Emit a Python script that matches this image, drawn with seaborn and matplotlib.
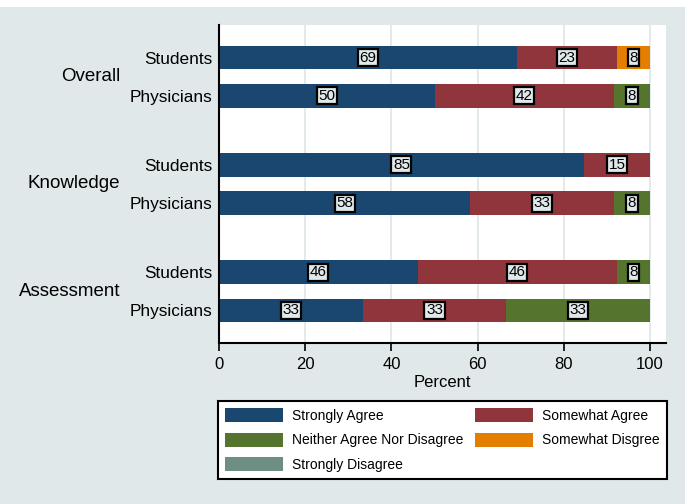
import numpy as np
import pandas as pd
import seaborn as sns
import matplotlib.pyplot as plt
import matplotlib.transforms as mtransforms
from matplotlib.patches import Patch, Rectangle

# survey data (percent), rows: Overall/Knowledge/Assessment x Students/Physicians
groups = ["Overall", "Knowledge", "Assessment"]
samples = ["Students", "Physicians"]
responses = ["Strongly Agree", "Somewhat Agree", "Neither Agree Nor Disagree",
             "Somewhat Disgree", "Strongly Disagree"]

strongly_agree = [69.23, 50.0, 84.62, 58.33, 46.15, 33.33]
somewhat_agree = [23.08, 41.67, 15.38, 33.33, 46.15, 33.33]
neither_agree = [0.0, 8.33, 0.0, 8.33, 7.69, 33.34]
somewhat_disagree = [7.69, 0.0, 0.0, 0.0, 0.0, 0.0]
strongly_disagree = [0.0, 0.0, 0.0, 0.0, 0.0, 0.0]

colors = ["#1a476f", "#90353b", "#55752f", "#e37e00", "#6e8e84"]
bg = "#e0e8ea"

sns.set_style("ticks")
plt.rcParams["font.family"] = ["Liberation Sans", "DejaVu Sans"]
plt.rcParams.update({"text.color": "black", "axes.labelcolor": "black",
                     "xtick.color": "black", "ytick.color": "black"})

df = pd.DataFrame(dict(zip(responses, [strongly_agree, somewhat_agree, neither_agree,
                                       somewhat_disagree, strongly_disagree])))
df["sample"] = samples * len(groups)
df["group"] = np.repeat(groups, len(samples))
df["pos"] = [0, 1, 2.8, 3.8, 5.6, 6.6]
cum = df[responses].cumsum(axis=1)

fig = plt.figure(figsize=(6.85, 5.04), dpi=100)
fig.patch.set_facecolor("white")
fig.patches.append(Rectangle((0, 0), 1, 1 - 7 / 504, transform=fig.transFigure,
                             facecolor=bg, edgecolor="none", zorder=-10))
ax = fig.add_axes([219 / 685, 1 - 343 / 504, 447 / 685, 318 / 504])
ax.set_facecolor("white")

# stacked bars: draw cumulative totals from the back
for resp, col in reversed(list(zip(responses, colors))):
    sns.barplot(x=cum[resp], y=df["pos"], orient="h", native_scale=True,
                color=col, saturation=1, width=0.61, errorbar=None,
                linewidth=0, ax=ax, zorder=2)

# boxed value labels
for resp in responses:
    for i in range(len(df)):
        v = df[resp].iloc[i]
        if v <= 0:
            continue
        xc = cum[resp].iloc[i] - v / 2
        ax.text(xc, df["pos"].iloc[i], f"{v:.0f}", ha="center", va="center",
                fontsize=11, zorder=5,
                bbox=dict(boxstyle="square,pad=0.1", fc=bg, ec="black", lw=1.6))

ax.set_xlim(0, 103.7)
ax.set_ylim(7.45, -0.85)
ax.set_xticks([0, 20, 40, 60, 80, 100])
ax.set_yticks(df["pos"])
ax.set_yticklabels(df["sample"])
ax.tick_params(axis="y", length=0, pad=5, labelsize=12.4)
ax.tick_params(axis="x", length=6, width=1.2, pad=4, labelsize=12)
ax.set_xlabel("Percent", fontsize=12, labelpad=2)
ax.set_ylabel("")
ax.xaxis.grid(True, color=bg, lw=1.3)
ax.set_axisbelow(True)
for s in ["top", "right"]:
    ax.spines[s].set_visible(False)
for s in ["left", "bottom"]:
    ax.spines[s].set_color("black")
    ax.spines[s].set_linewidth(1.5)

trans = mtransforms.blended_transform_factory(fig.transFigure, ax.transData)
for g in groups:
    mid = df.loc[df["group"] == g, "pos"].mean()
    ax.text(120 / 685, mid, g, ha="right", va="center", fontsize=13.5, transform=trans)

# legend, filled column-wise
order = [0, 2, 4, 1, 3]
handles = [Patch(facecolor=colors[i], edgecolor="none") for i in order]
labels = [responses[i] for i in order]
leg = fig.legend(handles, labels, loc="center", bbox_to_anchor=(442.5 / 685, 1 - 440 / 504),
                 ncol=2, fontsize=10, frameon=True, fancybox=False, framealpha=1,
                 handlelength=4.2, handleheight=1.2, handletextpad=0.65,
                 columnspacing=0.8, labelspacing=0.7, borderpad=0.5)
leg.get_frame().set_edgecolor("black")
leg.get_frame().set_linewidth(1.5)

fig.savefig("out.png", dpi=100)
